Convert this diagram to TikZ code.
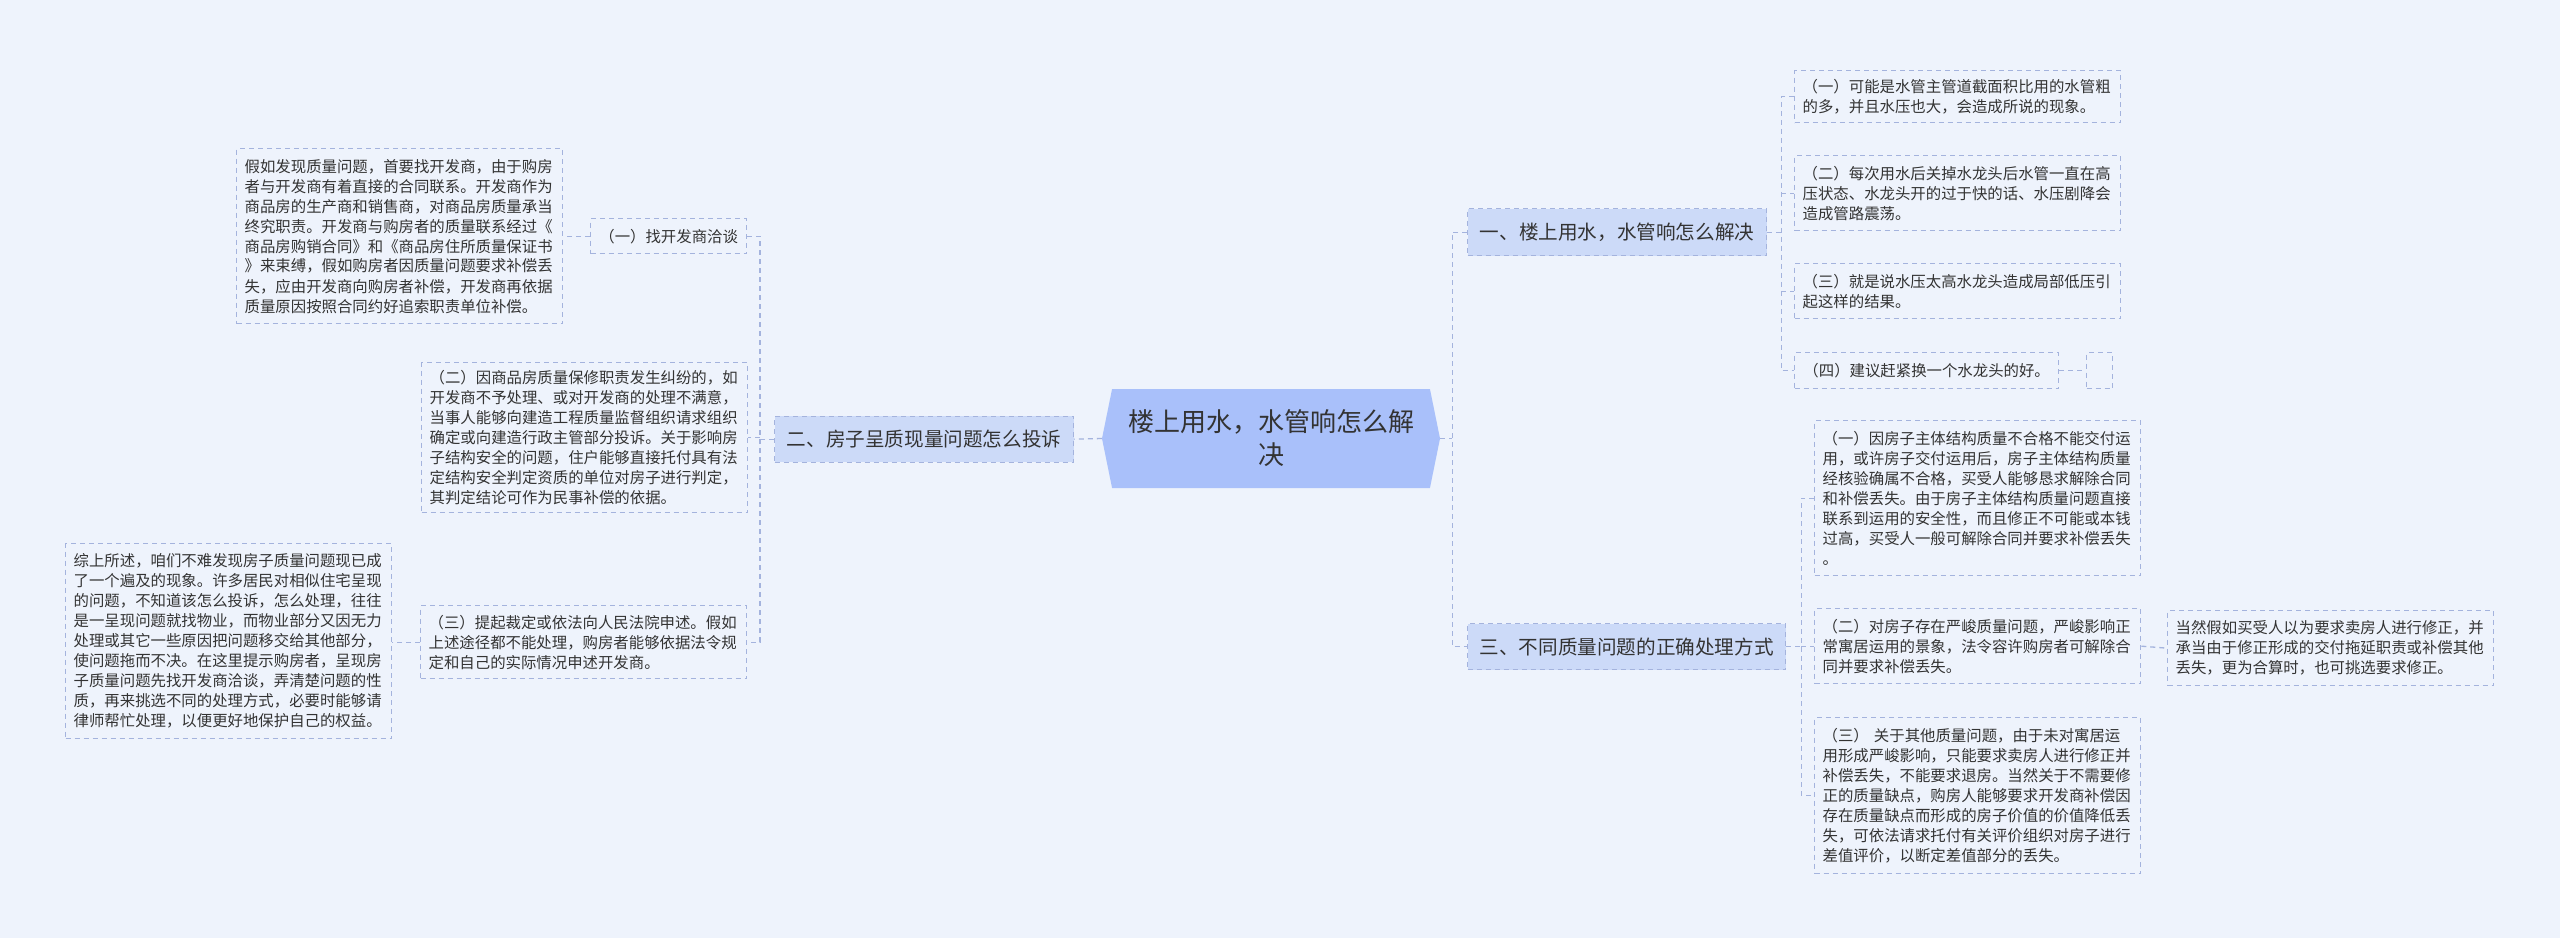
\documentclass[tikz,border=0pt]{standalone}
\usepackage{fontspec}
\setmainfont{Noto Sans CJK SC}
\usepackage{tikz}
\usetikzlibrary{%
  positioning,%
  shapes.symbols}

\definecolor{bgc}{HTML}{EEF3FC}
\definecolor{linec}{HTML}{A4B3DD}
\definecolor{brfill}{HTML}{CCDAF8}
\definecolor{rootfill}{HTML}{A9C0FA}
\definecolor{txtc}{HTML}{333333}

\tikzset{
  leaf/.style={draw=linec, dash pattern=on 5pt off 4pt, line width=1.3pt, fill=bgc, text=txtc,
    inner xsep=8pt, inner ysep=0pt, anchor=north west, font=\fontsize{15.4}{20}\selectfont},
  para/.style={leaf, text width=310pt, align=left},
  branch/.style={draw=linec, dash pattern=on 5pt off 4pt, line width=1.3pt, fill=brfill, text=txtc,
    inner sep=0pt, anchor=north west, font=\fontsize{19.6}{24}\selectfont},
  rootnode/.style={signal, signal to=west and east, signal pointer angle=157, fill=rootfill,
    text=txtc, align=center, inner sep=0pt, font=\fontsize{26}{33}\selectfont},
  link/.style={draw=linec, line width=1.3pt, dash pattern=on 5pt off 4pt}
}

\begin{document}
\begin{tikzpicture}[x=1pt,y=-1pt]
\fill[bgc] (0,0) rectangle (2560,938);
\useasboundingbox (0,0) rectangle (2560,938);
% description et nommage des noeuds
\node (T) at (1271,438.5) [rootnode, minimum width=338, minimum height=99] {楼上用水，水管响怎么解\\决};
\node (B1) at (1467,208) [branch, minimum width=299, minimum height=47] {一、楼上用水，水管响怎么解决};
\node (B2) at (774,415.5) [branch, minimum width=299, minimum height=46] {二、房子呈质现量问题怎么投诉};
\node (B3) at (1467,623) [branch, minimum width=318, minimum height=46] {三、不同质量问题的正确处理方式};
% gauche
\node (L1) at (590,218) [leaf, minimum width=156, minimum height=35] {（一）找开发商洽谈};
\node (L1a) at (236,148) [para, minimum height=175] {假如发现质量问题，首要找开发商，由于购房\\者与开发商有着直接的合同联系。开发商作为\\商品房的生产商和销售商，对商品房质量承当\\终究职责。开发商与购房者的质量联系经过《\\商品房购销合同》和《商品房住所质量保证书\\》来束缚，假如购房者因质量问题要求补偿丢\\失，应由开发商向购房者补偿，开发商再依据\\质量原因按照合同约好追索职责单位补偿。};
\node (L2) at (421,362) [para, minimum height=150] {（二）因商品房质量保修职责发生纠纷的，如\\开发商不予处理、或对开发商的处理不满意，\\当事人能够向建造工程质量监督组织请求组织\\确定或向建造行政主管部分投诉。关于影响房\\子结构安全的问题，住户能够直接托付具有法\\定结构安全判定资质的单位对房子进行判定，\\其判定结论可作为民事补偿的依据。};
\node (L3) at (420,605) [para, minimum height=73] {（三）提起裁定或依法向人民法院申述。假如\\上述途径都不能处理，购房者能够依据法令规\\定和自己的实际情况申述开发商。};
\node (L3a) at (65,543) [para, minimum height=195] {综上所述，咱们不难发现房子质量问题现已成\\了一个遍及的现象。许多居民对相似住宅呈现\\的问题，不知道该怎么投诉，怎么处理，往往\\是一呈现问题就找物业，而物业部分又因无力\\处理或其它一些原因把问题移交给其他部分，\\使问题拖而不决。在这里提示购房者，呈现房\\子质量问题先找开发商洽谈，弄清楚问题的性\\质，再来挑选不同的处理方式，必要时能够请\\律师帮忙处理，以便更好地保护自己的权益。};
% droite
\node (R1) at (1794,70) [para, minimum height=52] {（一）可能是水管主管道截面积比用的水管粗\\的多，并且水压也大，会造成所说的现象。};
\node (R2) at (1794,155) [para, minimum height=75] {（二）每次用水后关掉水龙头后水管一直在高\\压状态、水龙头开的过于快的话、水压剧降会\\造成管路震荡。};
\node (R3) at (1794,263) [para, minimum height=55] {（三）就是说水压太高水龙头造成局部低压引\\起这样的结果。};
\node (R4) at (1794,352) [leaf, minimum width=264, minimum height=36] {（四）建议赶紧换一个水龙头的好。};
\node (R4a) at (2086,352) [leaf, inner xsep=0pt, minimum width=26, minimum height=36] {};
\node (S1) at (1814,420) [para, minimum height=155] {（一）因房子主体结构质量不合格不能交付运\\用，或许房子交付运用后，房子主体结构质量\\经核验确属不合格，买受人能够恳求解除合同\\和补偿丢失。由于房子主体结构质量问题直接\\联系到运用的安全性，而且修正不可能或本钱\\过高，买受人一般可解除合同并要求补偿丢失\\。};
\node (S2) at (1814,608) [para, minimum height=75] {（二）对房子存在严峻质量问题，严峻影响正\\常寓居运用的景象，法令容许购房者可解除合\\同并要求补偿丢失。};
\node (S3) at (1814,717) [para, minimum height=156] {（三） 关于其他质量问题，由于未对寓居运\\用形成严峻影响，只能要求卖房人进行修正并\\补偿丢失，不能要求退房。当然关于不需要修\\正的质量缺点，购房人能够要求开发商补偿因\\存在质量缺点而形成的房子价值的价值降低丢\\失，可依法请求托付有关评价组织对房子进行\\差值评价，以断定差值部分的丢失。};
\node (S2a) at (2167,610) [para, minimum height=75] {当然假如买受人以为要求卖房人进行修正，并\\承当由于修正形成的交付拖延职责或补偿其他\\丢失，更为合算时，也可挑选要求修正。};
% liens
\draw[link] (T.west) -- (B2.east);
\draw[link] (T.east) -- ++(12,0) coordinate (t0);
\draw[link] (B1.west) -- (t0 |- B1.west) -- (t0 |- B3.west) -- (B3.west);
\draw[link] (B2.west) -- ++(-14,0) coordinate (t2);
\draw[link] (L1.east) -- (t2 |- L1.east) -- (t2 |- L3.east) -- (L3.east);
\draw[link] (t2 |- L2.east) -- (L2.east);
\draw[link] (L1.west) -- (L1a.east |- L1.west);
\draw[link] (L3.west) -- (L3a.east |- L3.west);
\draw[link] (B1.east) -- ++(14,0) coordinate (t1);
\draw[link] (R1.west) -- (t1 |- R1.west) -- (t1 |- R4.west) -- (R4.west);
\draw[link] (t1 |- R2.west) -- (R2.west);
\draw[link] (t1 |- R3.west) -- (R3.west);
\draw[link] (R4.east) -- (R4a.west);
\draw[link] (B3.east) -- ++(15,0) coordinate (t3);
\draw[link] (S1.west) -- (t3 |- S1.west) -- (t3 |- S3.west) -- (S3.west);
\draw[link] (t3 |- S2.west) -- (S2.west);
\draw[link] (S2.east) -- (S2a.west);
\end{tikzpicture}
\end{document}
